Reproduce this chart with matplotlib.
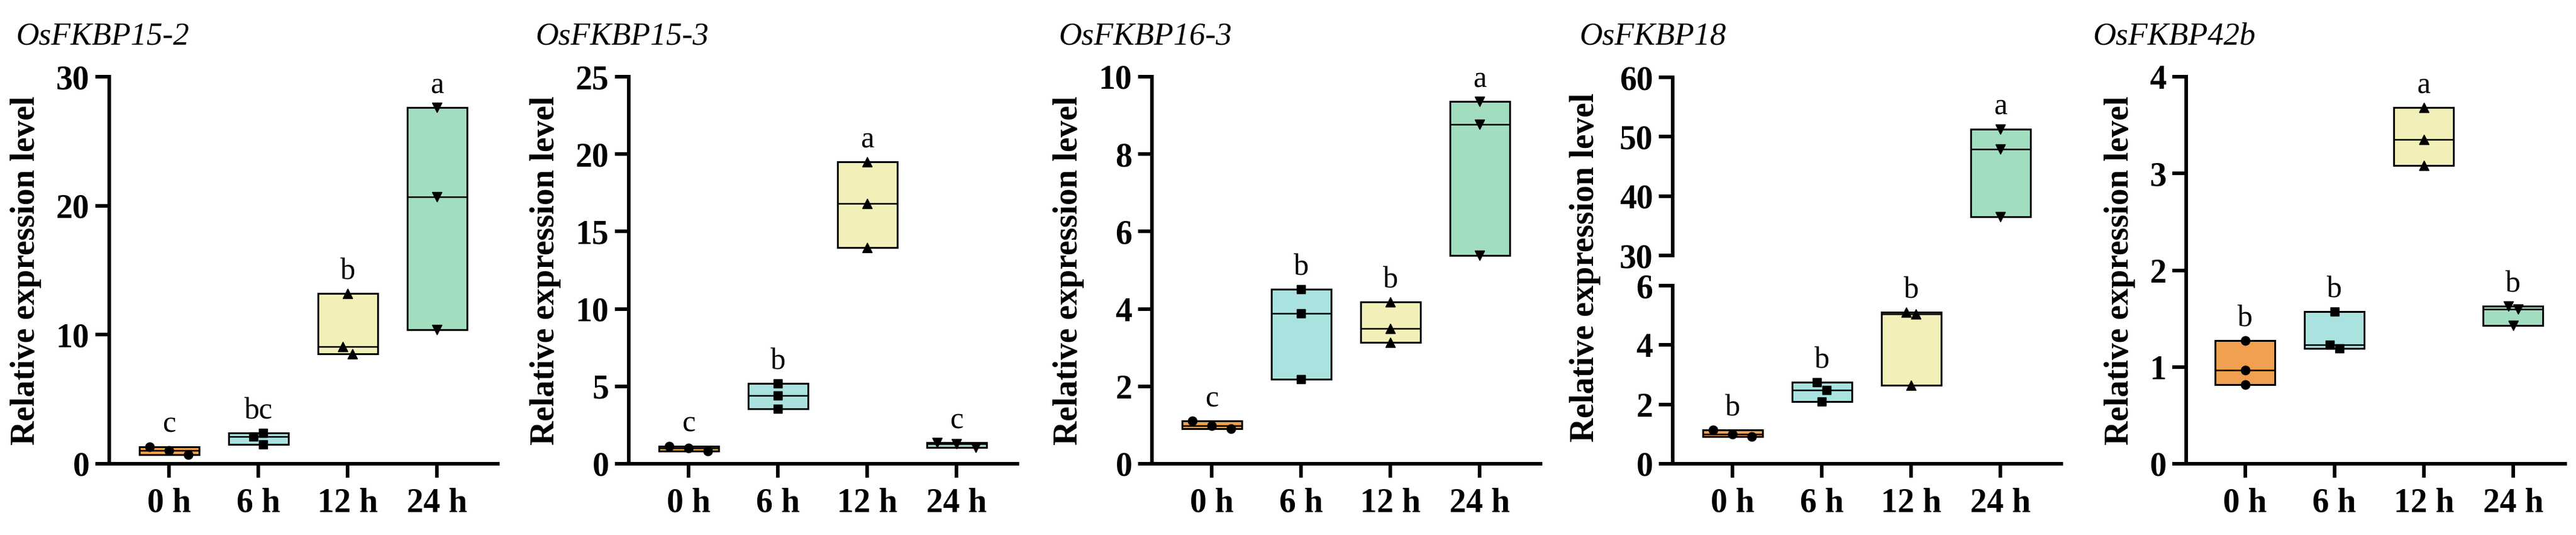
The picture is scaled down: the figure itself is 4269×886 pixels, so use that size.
import numpy as np
import matplotlib
matplotlib.use("Agg")
import matplotlib.pyplot as plt

plt.rcParams["font.family"] = ["Liberation Serif", "DejaVu Serif"]

# ---- data (three replicates per time point) ----
times = ["0 h", "6 h", "12 h", "24 h"]
genes = ["OsFKBP15-2", "OsFKBP15-3", "OsFKBP16-3", "OsFKBP18", "OsFKBP42b"]

fkbp15_2 = [[1.33, 1.05, 0.72], [2.40, 2.10, 1.50], [13.2, 9.1, 8.5], [27.6, 20.7, 10.4]]
fkbp15_3 = [[1.15, 1.00, 0.82], [5.20, 4.42, 3.55], [19.5, 16.8, 13.95], [1.38, 1.28, 1.06]]
fkbp16_3 = [[1.10, 0.98, 0.91], [4.51, 3.89, 2.18], [4.18, 3.50, 3.14], [9.36, 8.76, 5.38]]
fkbp18 = [[1.14, 1.00, 0.92], [2.75, 2.49, 2.10], [5.10, 5.05, 2.65], [51.3, 47.9, 36.5]]
fkbp42b = [[1.27, 0.97, 0.82], [1.57, 1.23, 1.19], [3.68, 3.35, 3.08], [1.63, 1.60, 1.43]]

letters_15_2 = ["c", "bc", "b", "a"]
letters_15_3 = ["c", "b", "a", "c"]
letters_16_3 = ["c", "b", "b", "a"]
letters_18 = ["b", "b", "b", "a"]
letters_42b = ["b", "b", "a", "b"]

ymax = [30, 25, 10, None, 4]
ystep = [10, 5, 2, None, 1]

colors = ["#F0A04E", "#AAE2E0", "#F3EFB8", "#A2DDBF"]
markers = ["o", "s", "^", "v"]
msizes = [10.5, 10.5, 12, 12]

W, H = 4269, 886
fig = plt.figure(figsize=(W / 100, H / 100), dpi=100)

spine_x = [181, 1042, 1909, 2772, 3623]
xlims = [(-0.67, 3.68)] * 4 + [(-0.66, 3.58)]
unit = 148.0
y0_px, ytop_px = 768, 127
LW = 4.3
TICK_FS = 40


def axes_at(left_px, right_px, top_px, bottom_px):
    return fig.add_axes([left_px / W, 1 - bottom_px / H,
                         (right_px - left_px) / W, (bottom_px - top_px) / H])


def style(ax, show_x=True):
    for s in ("top", "right"):
        ax.spines[s].set_visible(False)
    ax.spines["left"].set_linewidth(LW)
    ax.spines["bottom"].set_linewidth(LW)
    ax.tick_params(axis="both", width=LW, length=16.5, labelsize=TICK_FS, pad=7)
    ax.tick_params(axis="x", pad=12)
    for lab in ax.get_yticklabels() + ax.get_xticklabels():
        lab.set_fontweight("bold")
    if not show_x:
        ax.spines["bottom"].set_visible(False)
        ax.tick_params(axis="x", bottom=False, labelbottom=False)
    ax.patch.set_alpha(0)


def offsets(ax, x, vals, D=16.0):
    # spread replicate markers sideways when they would overlap on screen
    vals = np.asarray(vals, dtype=float)
    pts = ax.transData.transform(np.column_stack([np.full(len(vals), x), vals]))
    y = pts[:, 1]
    order = list(np.argsort(-vals))
    chains, cur = [], [order[0]]
    for a, b in zip(order[:-1], order[1:]):
        if y[a] - y[b] < D:
            cur.append(b)
        else:
            chains.append(cur)
            cur = [b]
    chains.append(cur)
    off = np.zeros(len(vals))
    for ch in chains:
        if len(ch) == 2:
            off[ch] = [-D / 2, D / 2]
        elif len(ch) == 3:
            if y[ch[0]] - y[ch[2]] < D:
                off[ch] = [-2 * D, 0, 2 * D]
            else:
                off[ch] = [D / 2, -D / 2, D / 2]
    pxu = ax.transData.transform((1, 0))[0] - ax.transData.transform((0, 0))[0]
    return off / pxu


def draw_group(ax, i, vals, letter):
    lo, hi, med = min(vals), max(vals), float(np.median(vals))
    ax.bar(i, hi - lo, bottom=lo, width=0.67, color=colors[i],
           edgecolor="black", linewidth=2.2, zorder=2)
    ax.hlines(med, i - 0.335, i + 0.335, color="black", lw=1.8, zorder=3)
    dx = offsets(ax, i, vals)
    ax.plot(i + dx, vals, linestyle="none", marker=markers[i], ms=msizes[i],
            color="black", zorder=4, clip_on=False)
    ax.annotate(letter, (i, hi), xytext=(0, 17), textcoords="offset points",
                ha="center", va="baseline", fontsize=36)


panels = [fkbp15_2, fkbp15_3, fkbp16_3, fkbp18, fkbp42b]
letters = [letters_15_2, letters_15_3, letters_16_3, letters_18, letters_42b]

for p, (data, lets) in enumerate(zip(panels, letters)):
    xl = xlims[p]
    left = spine_x[p]
    right = left + (xl[1] - xl[0]) * unit
    if p == 3:
        # broken y axis: 0-6 below, 30-60 above
        low = axes_at(left, right, 473, y0_px)
        up = axes_at(left, right, 128, 423)
        for ax in (low, up):
            ax.set_xlim(*xl)
        low.set_ylim(0, 6)
        low.set_yticks([0, 2, 4, 6])
        up.set_ylim(30, 60)
        up.set_yticks([30, 40, 50, 60])
        low.set_xticks(range(4))
        low.set_xticklabels(times)
        up.set_xticks([])
        style(low)
        style(up, show_x=False)
        for i, vals in enumerate(data):
            draw_group(up if i == 3 else low, i, vals, lets[i])
        low.set_ylabel("Relative expression level", fontsize=40,
                       fontweight="bold")
        low.yaxis.set_label_coords(-0.185, (y0_px - 443) / (y0_px - 473))
    else:
        ax = axes_at(left, right, ytop_px, y0_px)
        ax.set_xlim(*xl)
        ax.set_ylim(0, ymax[p])
        ax.set_yticks(np.arange(0, ymax[p] + 0.01, ystep[p]))
        ax.set_xticks(range(4))
        ax.set_xticklabels(times)
        style(ax)
        for i, vals in enumerate(data):
            draw_group(ax, i, vals, lets[i])
        ax.set_ylabel("Relative expression level", fontsize=40,
                      fontweight="bold", labelpad=17)
    fig.text((left - 155) / W, 1 - 73 / H, genes[p], fontsize=38,
             style="italic", ha="left", va="baseline")

fig.savefig("out.png", dpi=100)
